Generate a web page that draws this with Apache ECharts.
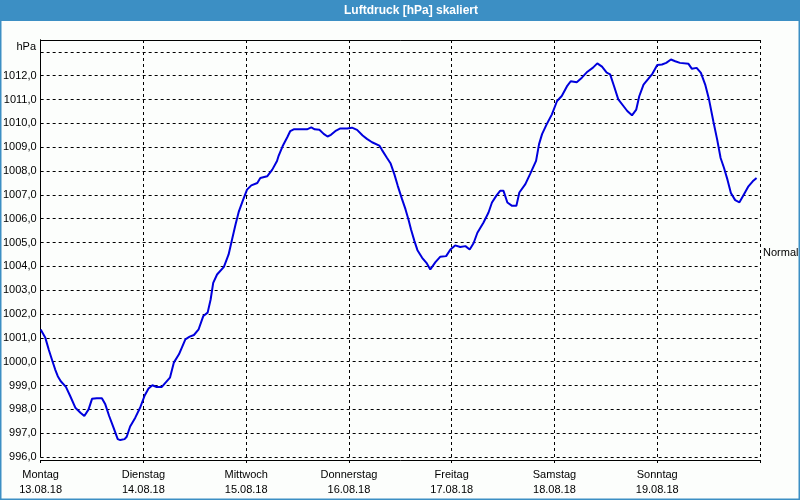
<!DOCTYPE html>
<html>
<head>
<meta charset="utf-8">
<script src="https://cdn.jsdelivr.net/npm/echarts@6/dist/echarts.min.js"></script>
<style>
html,body{margin:0;padding:0;background:#fcfefc;}
#c{width:800px;height:500px;}
</style>
</head>
<body>
<div id="c"></div>
<script>
// ---- data ----
const titleText = 'Luftdruck [hPa] skaliert';
const unitLabel = 'hPa';
const dayNames = ['Montag','Dienstag','Mittwoch','Donnerstag','Freitag','Samstag','Sonntag'];
const dayDates = ['13.08.18','14.08.18','15.08.18','16.08.18','17.08.18','18.08.18','19.08.18'];
const normalLabel = 'Normal';
const normalValue = 1004.55;
// hours since Monday 00:00
const hours = [
  0.0, 1.1, 1.9, 2.8, 3.4, 4.0, 4.7, 5.9, 6.9, 8.1, 9.3, 10.2, 11.2, 12.0, 13.1, 14.3, 15.1, 16.0, 17.0, 18.0,
  18.6, 19.6, 20.1, 20.9, 22.1, 23.3, 24.3, 25.2, 26.1, 27.1, 28.3, 30.2, 31.1, 32.3, 33.8, 34.8, 35.8, 36.9, 38.0, 39.0,
  39.7, 40.3, 41.2, 42.8, 43.9, 44.7, 45.5, 46.3, 47.3, 48.2, 49.2, 50.6, 51.3, 52.9, 54.1, 55.2, 55.6, 56.5, 57.6, 58.3,
  59.1, 60.7, 62.2, 63.2, 64.0, 65.1, 66.1, 67.0, 67.8, 69.0, 70.0, 71.6, 72.7, 73.9, 75.2, 76.2, 77.4, 79.1, 79.7, 80.9,
  81.7, 82.6, 83.4, 84.4, 85.2, 85.9, 86.5, 87.3, 88.0, 89.1, 90.1, 91.0, 92.2, 93.3, 94.7, 95.7, 96.8, 98.0, 99.2, 100.2,
  101.1, 102.0, 103.4, 104.6, 105.4, 106.4, 107.3, 108.1, 109.0, 110.1, 111.1, 111.8, 113.2, 114.3, 115.7, 116.4, 117.1, 118.2, 119.4, 120.6,
  121.7, 122.9, 123.8, 125.2, 126.4, 127.7, 129.0, 130.0, 131.1, 132.2, 133.0, 133.9, 134.9, 136.1, 137.0, 138.1, 139.1, 139.8, 140.8, 141.9,
  142.9, 144.0, 145.1, 146.1, 147.2, 148.2, 149.3, 151.3, 152.1, 153.2, 154.2, 155.2, 156.1, 157.1, 158.0, 158.8, 159.6, 160.4, 161.2, 162.2,
  163.2, 164.1, 165.3, 166.3, 167.2
];
const pressure = [
  1001.35, 1001.0, 1000.5, 1000.0, 999.67, 999.39, 999.18, 998.94, 998.56, 998.07, 997.86, 997.72, 998.0, 998.44, 998.47, 998.47, 998.21, 997.72, 997.24, 996.75,
  996.71, 996.75, 996.85, 997.28, 997.65, 998.1, 998.58, 998.87, 999.01, 998.94, 998.94, 999.33, 999.96, 1000.31, 1000.94, 1001.05, 1001.12, 1001.36, 1001.92, 1002.06,
  1002.61, 1003.31, 1003.66, 1003.98, 1004.5, 1005.13, 1005.75, 1006.31, 1006.8, 1007.22, 1007.4, 1007.5, 1007.71, 1007.78, 1008.06, 1008.42, 1008.65, 1009.04, 1009.42, 1009.68,
  1009.75, 1009.75, 1009.75, 1009.83, 1009.75, 1009.73, 1009.56, 1009.45, 1009.52, 1009.7, 1009.79, 1009.79, 1009.82, 1009.73, 1009.49, 1009.35, 1009.21, 1009.07, 1008.89, 1008.55,
  1008.33, 1007.87, 1007.38, 1006.82, 1006.40, 1005.97, 1005.55, 1005.06, 1004.68, 1004.36, 1004.15, 1003.87, 1004.18, 1004.4, 1004.43, 1004.71, 1004.88, 1004.81, 1004.85, 1004.71,
  1004.97, 1005.41, 1005.83, 1006.26, 1006.68, 1006.96, 1007.17, 1007.17, 1006.68, 1006.54, 1006.54, 1007.1, 1007.45, 1007.87, 1008.43, 1009.13, 1009.55, 1009.97, 1010.38, 1010.94,
  1011.15, 1011.55, 1011.77, 1011.73, 1011.92, 1012.17, 1012.34, 1012.52, 1012.38, 1012.13, 1012.06, 1011.57, 1011.01, 1010.73, 1010.52, 1010.34, 1010.58, 1011.14, 1011.63, 1011.87,
  1012.09, 1012.45, 1012.47, 1012.54, 1012.68, 1012.61, 1012.54, 1012.5, 1012.29, 1012.33, 1012.12, 1011.63, 1011.0, 1010.09, 1009.32, 1008.55, 1008.13, 1007.64, 1007.08, 1006.78,
  1006.69, 1006.97, 1007.36, 1007.57, 1007.71
];
const yMin = 996, yMax = 1013.5, yStep = 1, yLabelMax = 1012;
const xMin = 0, xMax = 168, xStep = 24;

// ---- chart ----
const seriesData = hours.map((h, i) => [h, pressure[i]]);
const FONT = 'Liberation Sans';
const chart = echarts.init(document.getElementById('c'), null, {renderer: 'canvas'});
const dashed = {color: '#000', width: 1, type: [3, 3]};
chart.setOption({
  backgroundColor: '#fcfefc',
  animation: false,
  textStyle: {fontFamily: FONT},
  grid: {left: 40, right: 40, top: 40, bottom: 43},
  graphic: [
    {type: 'rect', shape: {x: 0, y: 0, width: 800, height: 21}, style: {fill: '#3c8fc4'}, z: 0},
    {type: 'rect', shape: {x: 0.5, y: 0.5, width: 799, height: 499}, style: {fill: null, stroke: '#3c8fc4', lineWidth: 2}, z: 0},
    {type: 'text', x: 411, y: 11, style: {text: titleText, fill: '#fff', font: 'bold 12px ' + FONT, textAlign: 'center', textVerticalAlign: 'middle'}, z: 10},
    {type: 'text', x: 36, y: 47, style: {text: unitLabel, fill: '#000', font: '11px ' + FONT, textAlign: 'right', textVerticalAlign: 'middle'}, z: 10}
  ],
  xAxis: [{
    type: 'value', min: xMin, max: xMax, interval: xStep, offset: 3,
    axisLine: {show: true, lineStyle: {color: '#000', width: 1}},
    axisTick: {show: true, length: 3, lineStyle: {color: '#000'}},
    splitLine: {show: true, lineStyle: dashed},
    axisLabel: {
      color: '#000', fontSize: 11, fontFamily: FONT, margin: 7, lineHeight: 15,
      showMinLabel: true, showMaxLabel: true,
      formatter: v => { const i = Math.round(v / xStep); return i < dayNames.length ? dayNames[i] + '\n' + dayDates[i] : ''; }
    }
  }, {
    type: 'value', position: 'top', min: xMin, max: xMax,
    axisLine: {show: true, lineStyle: {color: '#000', width: 1}},
    axisTick: {show: false}, axisLabel: {show: false}, splitLine: {show: false}
  }],
  yAxis: [{
    type: 'value', min: yMin, max: yMax, interval: yStep,
    axisLine: {show: true, lineStyle: {color: '#000', width: 1}},
    axisTick: {show: false},
    splitLine: {show: true, lineStyle: dashed},
    axisLabel: {
      color: '#000', fontSize: 11, fontFamily: FONT, margin: 4,
      formatter: v => (Number.isInteger(v) && v <= yLabelMax) ? v.toFixed(1).replace('.', ',') : ''
    }
  }, {
    type: 'value', position: 'right', min: yMin, max: yMax,
    axisLine: {show: true, lineStyle: {color: '#000', width: 1}},
    axisTick: {show: false}, axisLabel: {show: false}, splitLine: {show: false}
  }],
  series: [{
    type: 'line', data: seriesData, showSymbol: false, smooth: false, clip: false,
    lineStyle: {color: '#0000dd', width: 2},
    markLine: {
      silent: true, symbol: ['none', 'none'], animation: false,
      lineStyle: {color: 'rgba(0,0,0,0)', width: 1, type: 'solid'},
      label: {show: true, position: 'end', distance: 3, formatter: normalLabel, color: '#000', fontSize: 11, fontFamily: FONT},
      data: [{yAxis: normalValue}]
    }
  }]
});
</script>
</body>
</html>
